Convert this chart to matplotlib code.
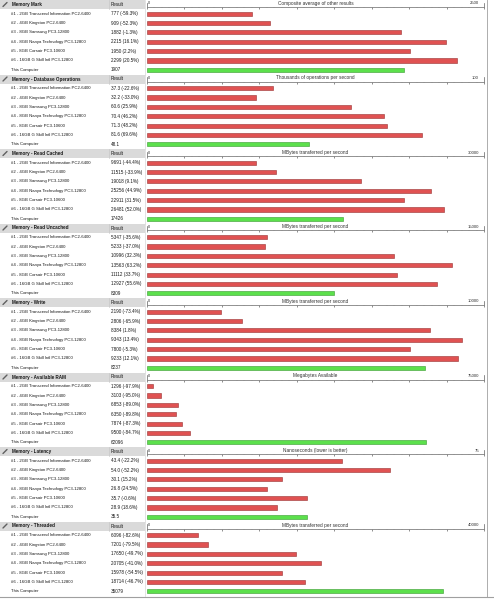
#!/usr/bin/python
# -*- encoding: utf-8 -*-
'''
Memory benchmark comparison chart (PassMark style)
'''

import numpy as np
import matplotlib
matplotlib.use('Agg')
import matplotlib.pyplot as plt
from matplotlib.patches import Rectangle
from matplotlib.ticker import MultipleLocator

#* Data
ROW_NAMES = ['#1 - 2GB Transcend Information PC2-6400',
             '#2 - 4GB Kingston PC2-6400',
             '#3 - 8GB Samsung PC3-12800',
             '#4 - 8GB Nanya Technology PC3-12800',
             '#5 - 8GB Corsair PC3-10600',
             '#6 - 16GB G Skill Intl PC3-12800',
             'This Computer']

PANEL_TITLES = ['Memory Mark',
                'Memory - Database Operations',
                'Memory - Read Cached',
                'Memory - Read Uncached',
                'Memory - Write',
                'Memory - Available RAM',
                'Memory - Latency',
                'Memory - Threaded']

AXIS_TITLES = ['Composite average of other results',
               'Thousands of operations per second',
               'MBytes transferred per second',
               'MBytes transferred per second',
               'MBytes transferred per second',
               'Megabytes Available',
               'Nanoseconds (lower is better)',
               'MBytes transferred per second']

AXIS_MAX = [2500, 100, 30000, 15000, 10000, 75000, 75, 40000]

memory_mark = [777, 909, 1882, 2215, 1950, 2299, 1907]
database_ops = [37.3, 32.2, 60.6, 70.4, 71.3, 81.6, 48.1]
read_cached = [9691, 11515, 19018, 25256, 22911, 26481, 17426]
read_uncached = [5347, 5233, 10996, 13563, 11112, 12927, 8309]
write = [2190, 2806, 8384, 9343, 7800, 9233, 8237]
available_ram = [1296, 3103, 6853, 6350, 7874, 9500, 62096]
latency = [43.4, 54.0, 30.1, 26.8, 35.7, 28.9, 35.5]
threaded = [6096, 7201, 17650, 20705, 15978, 18714, 35079]

memory_mark_pct = ['-59.3%', '-52.3%', '-1.3%', '16.1%', '2.2%', '20.5%', None]
database_ops_pct = ['-22.6%', '-33.0%', '25.9%', '46.2%', '48.2%', '69.6%', None]
read_cached_pct = ['-44.4%', '-33.9%', '9.1%', '44.9%', '31.5%', '52.0%', None]
read_uncached_pct = ['-35.6%', '-37.0%', '32.3%', '63.2%', '33.7%', '55.6%', None]
write_pct = ['-73.4%', '-65.9%', '1.8%', '13.4%', '-5.3%', '12.1%', None]
available_ram_pct = ['-97.9%', '-95.0%', '-89.0%', '-89.8%', '-87.3%', '-84.7%', None]
latency_pct = ['-22.2%', '-52.2%', '15.2%', '24.5%', '-0.6%', '18.6%', None]
threaded_pct = ['-82.6%', '-79.5%', '-49.7%', '-41.0%', '-54.5%', '-46.7%', None]

PANEL_VALUES = [memory_mark, database_ops, read_cached, read_uncached,
                write, available_ram, latency, threaded]
PANEL_PCTS = [memory_mark_pct, database_ops_pct, read_cached_pct,
              read_uncached_pct, write_pct, available_ram_pct,
              latency_pct, threaded_pct]

#* Layout (pixels)
W, H = 494, 600
PANEL_H = 74.5
HEADER_H = 9.0
CHART_X0, CHART_X1 = 147, 484
RESULT_X = 111
NAME_X = 11

RED = '#e05252'
RED_EDGE = '#983030'
GREEN = '#5ce04c'
GREEN_EDGE = '#38992e'
HEADER_BG = '#dadada'
LINE_GREY = '#a0a0a0'
TEXT = '#181818'

plt.rcParams['font.family'] = ['Liberation Sans', 'DejaVu Sans']
FS = 3.05


def fmt_result(v, pct):
    s = f'{v:.1f}' if isinstance(v, float) else f'{v}'
    if pct is not None:
        s += f' ({pct})'
    return s


fig = plt.figure(figsize=(W / 100, H / 100), dpi=100)
fig.patch.set_facecolor('white')

# background / table layer in pixel coordinates
bg = fig.add_axes([0, 0, 1, 1])
bg.set_xlim(0, W)
bg.set_ylim(H, 0)
bg.axis('off')

for i, title in enumerate(PANEL_TITLES):
    top = i * PANEL_H
    # header band for name + result columns
    bg.add_patch(Rectangle((0, top), CHART_X0 - 2, HEADER_H,
                           facecolor=HEADER_BG, edgecolor='none'))
    bg.plot([109, 109], [top, top + HEADER_H], color='#c8c8c8', lw=0.5)
    # icon
    bg.plot([3, 7], [top + 6.5, top + 2.5], color='#606060', lw=1.0,
            solid_capstyle='round')
    bg.text(NAME_X + 1, top + HEADER_H / 2, title, fontsize=FS + 0.3,
            fontweight='bold', va='center', ha='left', color=TEXT)
    bg.text(RESULT_X, top + HEADER_H / 2, 'Result', fontsize=FS + 0.2,
            va='center', ha='left', color=TEXT)
    # column separators
    bg.plot([CHART_X0 - 2, CHART_X0 - 2], [top, top + PANEL_H],
            color='#d8d8d8', lw=0.5)

    vals = PANEL_VALUES[i]
    pcts = PANEL_PCTS[i]
    row_h = (PANEL_H - HEADER_H) / len(ROW_NAMES)
    for k, name in enumerate(ROW_NAMES):
        yc = top + HEADER_H + (k + 0.5) * row_h
        bg.text(NAME_X, yc, name, fontsize=FS, va='center', ha='left',
                color=TEXT)
        bg.text(RESULT_X, yc, fmt_result(vals[k], pcts[k]),
                fontsize=FS + 0.25, va='center', ha='left', color=TEXT)

# right border and bottom line
bg.plot([487, 487], [0, 597], color=LINE_GREY, lw=0.6)
bg.plot([0, 494], [597, 597], color=LINE_GREY, lw=0.8)

# bar charts
for i, vals in enumerate(PANEL_VALUES):
    top = i * PANEL_H
    axis_y = top + 7.0
    bottom = top + PANEL_H
    ax = fig.add_axes([CHART_X0 / W, 1 - bottom / H,
                       (CHART_X1 - CHART_X0) / W, (bottom - axis_y) / H])
    n = len(vals)
    row_h = (PANEL_H - HEADER_H) / n
    extra = (HEADER_H - 7.0) / row_h
    y = np.arange(n)
    colors = [RED] * (n - 1) + [GREEN]
    edges = [RED_EDGE] * (n - 1) + [GREEN_EDGE]
    ax.barh(y, vals, height=0.44, color=colors, edgecolor=edges,
            linewidth=0.4)
    ax.set_xlim(0, AXIS_MAX[i])
    ax.set_ylim(n - 0.5, -0.5 - extra)
    ax.patch.set_alpha(0)
    for side in ['left', 'right', 'bottom']:
        ax.spines[side].set_visible(False)
    ax.spines['top'].set_color('#808080')
    ax.spines['top'].set_linewidth(0.6)
    ax.xaxis.tick_top()
    ax.xaxis.set_major_locator(MultipleLocator(AXIS_MAX[i] / 9))
    ax.xaxis.set_minor_locator(MultipleLocator(AXIS_MAX[i] / 45))
    ax.tick_params(axis='x', which='major', direction='in', length=1.6,
                   width=0.5, color='#606060', labeltop=False)
    ax.tick_params(axis='x', which='minor', direction='in', length=0.8,
                   width=0.3, color='#909090')
    ax.set_yticks([])
    # end brackets of the scale
    ax.plot([0, 0], [-0.5 - extra, -0.5 - extra - 0.45], color='#606060',
            lw=0.5, clip_on=False)
    ax.plot([AXIS_MAX[i]] * 2, [-0.5 - extra, -0.5 - extra - 0.45],
            color='#606060', lw=0.5, clip_on=False)
    label_y = 1.0 + 3.5 / (bottom - axis_y)
    ax.text(0.003, label_y, '0', transform=ax.transAxes,
            fontsize=FS - 0.3, ha='left', va='center', color='#303030')
    ax.text(0.5, label_y, AXIS_TITLES[i],
            transform=ax.transAxes, fontsize=FS + 0.4, ha='center',
            va='center', color='#303030')
    ax.text(0.985, label_y, f'{AXIS_MAX[i]}',
            transform=ax.transAxes, fontsize=FS, ha='right',
            va='center', color='#303030')

fig.savefig('out.png', dpi=100, facecolor='white')
